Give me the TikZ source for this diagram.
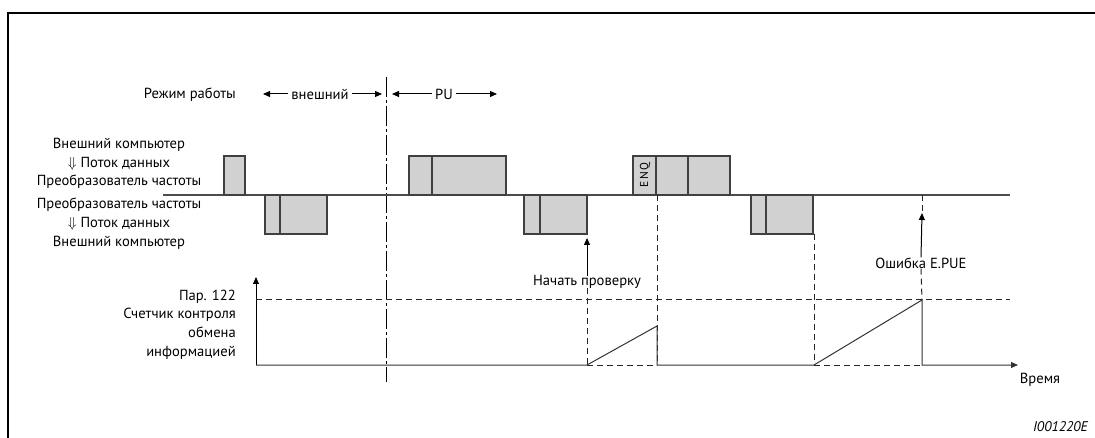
\documentclass[tikz,border=0pt]{standalone}
\usepackage{fontspec}
\setmainfont{PT Sans}
\usetikzlibrary{arrows.meta}
\tikzset{
  lbl/.style   = {font=\fontsize{14.6}{18.7}\selectfont, inner sep=1pt},
  pkt/.style   = {draw=black!75, fill=black!18, line width=1.1pt},
  sig/.style   = {draw=black!70, line width=1.1pt},
  guide/.style = {draw=black!85, dash pattern=on 6pt off 4pt, line width=1pt},
  chg/.style   = {draw=black, line width=1pt, dash pattern=on 20pt off 3pt on 3pt off 3pt},
  ar/.style    = {-{Triangle[length=7pt,width=6pt]}, line width=1pt},
  frm/.style   = {draw=black, line width=2pt},
}

\begin{document}
\begin{tikzpicture}[x=1pt,y=-1pt]
\useasboundingbox (0,0) rectangle (1095,438);

% --- frame ---
\draw[frm] (8,440) -- (8,13) -- (1097,13);

% --- operating mode ---
\node[lbl, anchor=east] (mode) at (237,95) {Режим работы};
\node[lbl] (extl) at (320,94) {внешний};
\node[lbl] (pul) at (444,94) {PU};
\coordinate (chgtop) at (386,77);
\coordinate (chgbot) at (386,382);
\draw[chg] (chgtop) -- (chgbot);
\draw[ar] ([xshift=-2pt]extl.west) -- (263,94);
\draw[ar] ([xshift=2pt]extl.east) -- (382,94);
\draw[ar] ([xshift=-2pt]pul.west) -- (392,94);
\draw[ar] ([xshift=2pt]pul.east) -- (497,94);

% --- signal labels ---
\node[lbl, align=center] (tx) at (119,163.5)
     {Внешний компьютер\\$\Downarrow$ Поток данных\\Преобразователь частоты};
\node[lbl, align=center] (rx) at (119,223.5)
     {Преобразователь частоты\\$\Downarrow$ Поток данных\\Внешний компьютер};

% --- data line and frames ---
\draw[sig] (163,195) -- (1010,195);
\draw[pkt] (224,156) rectangle (245,195);
\draw[pkt] (409,156) rectangle (506,195);
\draw[pkt] (432,156) -- (432,195);
\draw[pkt] (633,156) rectangle (730,195);
\draw[pkt] (656,156) -- (656,195);
\draw[pkt] (688,156) -- (688,195);
\node[font=\fontsize{11.5}{11.5}\selectfont, rotate=90, inner sep=0pt] (enq) at (645,175) {E\,N\,Q};

\draw[pkt] (265,195) rectangle (327,234);
\draw[pkt] (280,195) -- (280,234);
\draw[pkt] (524,195) rectangle (587,234);
\draw[pkt] (540,195) -- (540,234);
\draw[pkt] (751,195) rectangle (813,234);
\draw[pkt] (766,195) -- (766,234);

% --- events ---
\node[lbl] (start) at (587,282) {Начать проверку};
\node[lbl] (err) at (921,263) {Ошибка E.PUE};
\draw[ar] ([yshift=-2pt]start.north) -- (587,238);
\draw[ar] ([yshift=-1pt]err.north) -- (922,213);

% --- counter ---
\node[lbl, align=right, anchor=east] (cnt) at (237,324.5)
     {Пар. 122\\Счетчик контроля\\обмена\\информацией};
\draw[ar] (256,365) -- (256,277);
\draw[guide] (256,300) -- (1010,300);
\draw[guide] (587,365) -- (657,365);
\draw[guide] (814,365) -- (922,365);
\draw[guide] ([yshift=2pt]start.south) -- (587,365);
\draw[guide] (657,195) -- (657,365);
\draw[guide] (814,234) -- (814,365);
\draw[guide] (922,195) -- (922,212);
\draw[guide] ([yshift=1pt]err.south) -- (922,300);
\draw[sig, ar, draw=black!80] (256,365) -- (587,365) -- (657,326) -- (657,365)
     -- (814,365) -- (922,300) -- (922,365) -- (1018,365);

\node[lbl] (time) at (1040,380) {Время};
\node[lbl, anchor=east, font=\fontsize{14}{15}\selectfont\itshape] (fig) at (1089,427) {I001220E};
\end{tikzpicture}
\end{document}
